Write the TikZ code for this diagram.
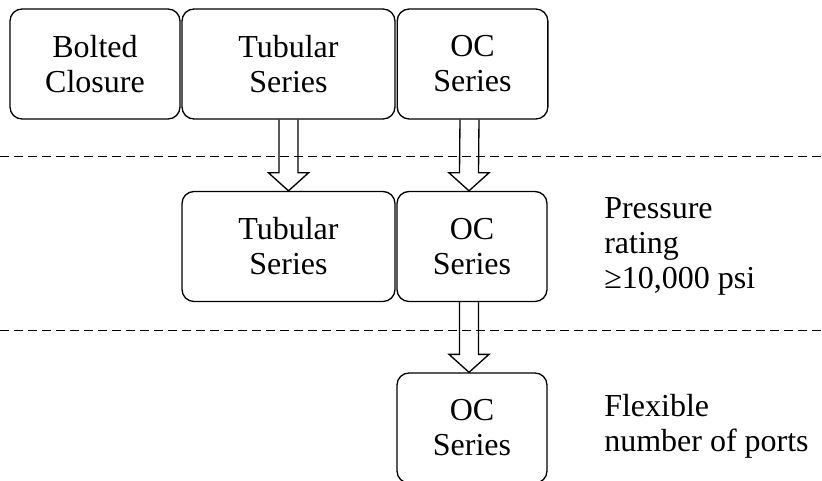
\documentclass[tikz,border=0pt]{standalone}
\usepackage{fontspec}
\setmainfont{Liberation Serif}
\usetikzlibrary{calc,positioning}
\tikzset{
  unitbox/.style={rectangle,rounded corners=9pt,draw=black,line width=1pt,align=center,inner sep=0pt,
    minimum height=82.5pt,font=\fontsize{24}{26.3}\selectfont},
  note/.style={anchor=west,align=left,inner sep=0pt,font=\fontsize{24}{26.3}\selectfont},
  fatarrow/.style={draw=black,line width=1pt,line join=miter},
  levelsep/.style={dash pattern=on 7pt off 3.5pt,line width=0.75pt}
}
% hollow block arrow: #1 from node, #2 to node, #3 x offset
\newcommand{\FatArrow}[3]{%
  \draw[fatarrow] ($(#1.south)+(#3-9.5,0)$) -- ($(#2.north)+(#3-9.5,-18)$)
    -- ($(#2.north)+(#3-20,-18)$) -- ($(#2.north)+(#3,0)$) -- ($(#2.north)+(#3+20,-18)$)
    -- ($(#2.north)+(#3+9.5,-18)$) -- ($(#1.south)+(#3+9.5,0)$);}

\begin{document}
\begin{tikzpicture}[x=0.75pt,y=-0.75pt]
\useasboundingbox (0,0) rectangle (822,481);
% top level
\node (bolted) [unitbox,minimum width=127.5pt] at (95,64) {Bolted\\Closure};
\node (tub1) [unitbox,minimum width=159.75pt] at (288.5,64) {Tubular\\Series};
\node (oc1) [unitbox,minimum width=113pt] at (472.5,64) {OC\\Series};
%
\node (tub2) [unitbox,minimum width=159.75pt] at (288.5,246.5) {Tubular\\Series};
\node (oc2) [unitbox,minimum width=112.5pt] at (472,246.5) {OC\\Series};
\node (press) [note] at (604,246.5) {Pressure\\rating\\≥10,000 psi};
%
\node (oc3) [unitbox,minimum width=112.5pt] at (472,428) {OC\\Series};
\node (ports) [note] at (604,426.5) {Flexible\\number of ports};
%
\draw[levelsep] (0,157) -- (822,157);
\draw[levelsep] (0,331) -- (822,331);
%
\FatArrow{tub1}{tub2}{0}
\FatArrow{oc1}{oc2}{-3}
\FatArrow{oc2}{oc3}{-3}
\end{tikzpicture}
\end{document}
